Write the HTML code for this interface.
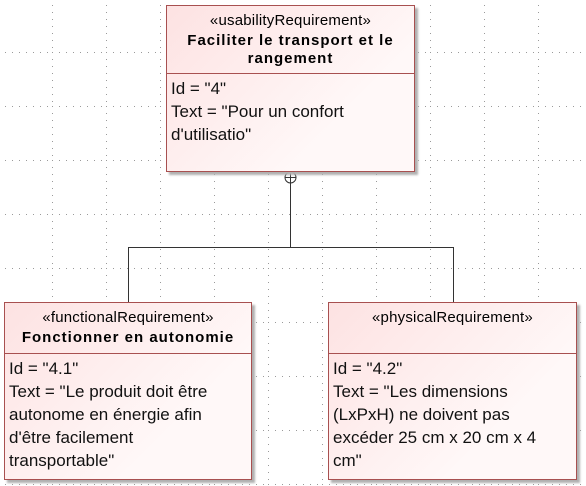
<!DOCTYPE html>
<html><head><meta charset="utf-8"><style>
body{margin:0;width:586px;height:486px;background:#fff;position:relative;overflow:hidden;font-family:"Liberation Sans",Arial,sans-serif;}
.box{position:absolute;border:1px solid #a85050;background:linear-gradient(135deg,#fde2e2,#fff8f8 70%);box-shadow:3px 3px 2px #b0b0b0;box-sizing:border-box;}
.hd{border-bottom:1px solid #a85050;text-align:center;box-sizing:border-box;white-space:nowrap;}
.st{font-size:15px;padding-top:6px;letter-spacing:0.2px;}
.nm{font-size:15px;font-weight:bold;letter-spacing:1px;line-height:18px;margin-top:3px;}
.bd{font-size:17px;line-height:23px;padding:3px 4px;color:#111;white-space:nowrap;}
.ln{position:absolute;background:#333;}
</style></head><body>
<svg style="position:absolute;left:0;top:0" width="586" height="486">
<defs><pattern id="g" x="-2" y="-2" width="54" height="54" patternUnits="userSpaceOnUse">
<g fill="#9a9a9a">
<rect x="0" y="0" width="1" height="1"/><rect x="0" y="7" width="1" height="1"/><rect x="0" y="14" width="1" height="1"/><rect x="0" y="21" width="1" height="1"/><rect x="0" y="28" width="1" height="1"/><rect x="0" y="35" width="1" height="1"/><rect x="0" y="42" width="1" height="1"/><rect x="0" y="49" width="1" height="1"/>
<rect x="7" y="0" width="1" height="1"/><rect x="14" y="0" width="1" height="1"/><rect x="21" y="0" width="1" height="1"/><rect x="28" y="0" width="1" height="1"/><rect x="35" y="0" width="1" height="1"/><rect x="42" y="0" width="1" height="1"/><rect x="49" y="0" width="1" height="1"/>
</g></pattern></defs>
<rect width="586" height="486" fill="url(#g)"/></svg>
<div class="ln" style="left:290px;top:180px;width:1px;height:68px"></div>
<div class="ln" style="left:128px;top:247px;width:326px;height:1px"></div>
<div class="ln" style="left:128px;top:247px;width:1px;height:55px"></div>
<div class="ln" style="left:453px;top:247px;width:1px;height:55px"></div>
<svg style="position:absolute;left:284px;top:171px" width="13" height="13"><circle cx="6.5" cy="6.5" r="5.5" fill="#fff" stroke="#333"/><line x1="6.5" y1="1" x2="6.5" y2="12" stroke="#333"/><line x1="1" y1="6.5" x2="12" y2="6.5" stroke="#333"/></svg>

<div class="box" style="left:166px;top:5px;width:249px;height:167px">
<div class="hd" style="height:68px"><div class="st">«usabilityRequirement»</div><div class="nm">Faciliter le transport et le<br>rangement</div></div>
<div class="bd">Id = "4"<br>Text = "Pour un confort<br>d'utilisatio"</div></div>

<div class="box" style="left:4px;top:302px;width:248px;height:178px">
<div class="hd" style="height:51px"><div class="st">«functionalRequirement»</div><div class="nm">Fonctionner en autonomie</div></div>
<div class="bd">Id = "4.1"<br>Text = "Le produit doit être<br>autonome en énergie afin<br>d'être facilement<br>transportable"</div></div>

<div class="box" style="left:328px;top:302px;width:249px;height:178px">
<div class="hd" style="height:51px"><div class="st">«physicalRequirement»</div></div>
<div class="bd">Id = "4.2"<br>Text = "Les dimensions<br>(LxPxH) ne doivent pas<br>excéder 25 cm x 20 cm x 4<br>cm"</div></div>
</body></html>
